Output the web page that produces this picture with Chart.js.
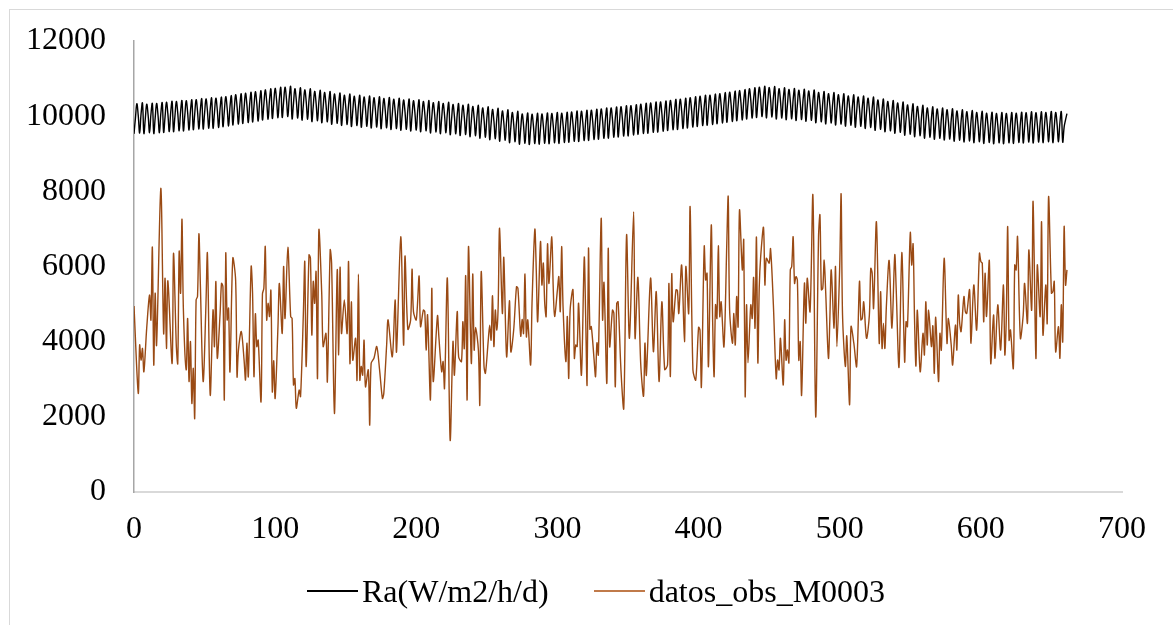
<!DOCTYPE html>
<html>
<head>
<meta charset="utf-8">
<script src="https://cdn.jsdelivr.net/npm/chart.js@4.4.1/dist/chart.umd.min.js"></script>
<style>
  html, body { margin: 0; padding: 0; background: #ffffff; }
  #wrap { position: relative; width: 1173px; height: 625px; overflow: hidden; background: #fff; }
  #frame { position: absolute; left: 9px; top: 9px; width: 1300px; height: 800px; border: 1px solid #d9d9d9; box-sizing: border-box; }
  #chart { position: absolute; left: 0; top: 0; }
  #legend { position: absolute; left: 307px; top: 572px; height: 38px; display: flex; align-items: center;
            font-family: 'Liberation Serif', 'Times New Roman', serif; font-size: 32px; color: #000; white-space: nowrap; }
  .item { display: flex; align-items: center; }
  .swatch { display: inline-block; width: 51px; height: 1.5px; margin-right: 4px; }
  .gap { display: inline-block; width: 45px; }
</style>
</head>
<body>
<div id="wrap">
  <div id="frame"></div>
  <canvas id="chart" width="1173" height="625"></canvas>
  <div id="legend"></div>
</div>
<script>
// ---- Data ----
const seriesNames = ['Ra(W/m2/h/d)', 'datos_obs_M0003'];
const xTicks = [0, 100, 200, 300, 400, 500, 600, 700];
const yTicks = [0, 2000, 4000, 6000, 8000, 10000, 12000];

// Ra series, one value per index 0..661
const raValues = [
 9530, 9940, 10330, 10020, 9550, 10060, 10350,
 9540, 9930, 10320, 10030, 9560, 10050, 10340,
 9540, 9950, 10340, 10030, 9560, 10070, 10360,
 9570, 9980, 10370, 10060, 9590, 10100, 10390,
 9590, 10000, 10390, 10080, 9610, 10120, 10410,
 9610, 10020, 10410, 10100, 9630, 10140, 10430,
 9640, 10050, 10440, 10130, 9660, 10170, 10460,
 9660, 10070, 10460, 10150, 9680, 10190, 10480,
 9680, 10090, 10480, 10170, 9700, 10210, 10500,
 9720, 10130, 10520, 10210, 9740, 10250, 10540,
 9770, 10180, 10570, 10260, 9790, 10300, 10590,
 9810, 10220, 10610, 10300, 9830, 10340, 10630,
 9850, 10260, 10650, 10340, 9870, 10380, 10670,
 9900, 10310, 10700, 10390, 9920, 10430, 10720,
 9940, 10350, 10740, 10430, 9960, 10470, 10760,
 9970, 10380, 10770, 10460, 9990, 10500, 10790,
 9930, 10340, 10730, 10420, 9950, 10460, 10750,
 9900, 10310, 10700, 10390, 9920, 10430, 10720,
 9860, 10270, 10660, 10350, 9880, 10390, 10680,
 9830, 10240, 10630, 10320, 9850, 10360, 10650,
 9790, 10200, 10590, 10280, 9810, 10320, 10610,
 9760, 10170, 10560, 10250, 9780, 10290, 10580,
 9730, 10140, 10530, 10220, 9750, 10260, 10550,
 9710, 10120, 10510, 10200, 9730, 10240, 10530,
 9690, 10100, 10490, 10180, 9710, 10220, 10510,
 9670, 10080, 10470, 10160, 9690, 10200, 10490,
 9650, 10060, 10450, 10140, 9670, 10180, 10470,
 9630, 10040, 10430, 10120, 9650, 10160, 10450,
 9610, 10020, 10410, 10100, 9630, 10140, 10430,
 9590, 10000, 10390, 10080, 9610, 10120, 10410,
 9560, 9970, 10360, 10050, 9580, 10090, 10380,
 9540, 9950, 10340, 10030, 9560, 10070, 10360,
 9510, 9920, 10310, 10000, 9530, 10040, 10330,
 9490, 9900, 10290, 9980, 9510, 10020, 10310,
 9460, 9870, 10260, 9950, 9480, 9990, 10280,
 9420, 9830, 10220, 9910, 9440, 9950, 10240,
 9380, 9790, 10180, 9870, 9400, 9910, 10200,
 9340, 9750, 10140, 9830, 9360, 9870, 10160,
 9300, 9710, 10100, 9790, 9320, 9830, 10120,
 9260, 9670, 10060, 9750, 9280, 9790, 10080,
 9250, 9660, 10050, 9740, 9270, 9780, 10070,
 9260, 9670, 10060, 9750, 9280, 9790, 10080,
 9270, 9680, 10070, 9760, 9290, 9800, 10090,
 9280, 9690, 10080, 9770, 9300, 9810, 10100,
 9310, 9720, 10110, 9800, 9330, 9840, 10130,
 9330, 9740, 10130, 9820, 9350, 9860, 10150,
 9360, 9770, 10160, 9850, 9380, 9890, 10180,
 9390, 9800, 10190, 9880, 9410, 9920, 10210,
 9420, 9830, 10220, 9910, 9440, 9950, 10240,
 9450, 9860, 10250, 9940, 9470, 9980, 10270,
 9480, 9890, 10280, 9970, 9500, 10010, 10300,
 9520, 9930, 10320, 10010, 9540, 10050, 10340,
 9550, 9960, 10350, 10040, 9570, 10080, 10370,
 9580, 9990, 10380, 10070, 9600, 10110, 10400,
 9620, 10030, 10420, 10110, 9640, 10150, 10440,
 9650, 10060, 10450, 10140, 9670, 10180, 10470,
 9690, 10100, 10490, 10180, 9710, 10220, 10510,
 9730, 10140, 10530, 10220, 9750, 10260, 10550,
 9760, 10170, 10560, 10250, 9780, 10290, 10580,
 9800, 10210, 10600, 10290, 9820, 10330, 10620,
 9840, 10250, 10640, 10330, 9860, 10370, 10660,
 9880, 10290, 10680, 10370, 9900, 10410, 10700,
 9930, 10340, 10730, 10420, 9950, 10460, 10750,
 9970, 10380, 10770, 10460, 9990, 10500, 10790,
 9960, 10370, 10760, 10450, 9980, 10490, 10780,
 9930, 10340, 10730, 10420, 9950, 10460, 10750,
 9910, 10320, 10710, 10400, 9930, 10440, 10730,
 9890, 10300, 10690, 10380, 9910, 10420, 10710,
 9870, 10280, 10670, 10360, 9890, 10400, 10690,
 9830, 10240, 10630, 10320, 9850, 10360, 10650,
 9800, 10210, 10600, 10290, 9820, 10330, 10620,
 9770, 10180, 10570, 10260, 9790, 10300, 10590,
 9740, 10150, 10540, 10230, 9760, 10270, 10560,
 9710, 10120, 10510, 10200, 9730, 10240, 10530,
 9680, 10090, 10480, 10170, 9700, 10210, 10500,
 9630, 10040, 10430, 10120, 9650, 10160, 10450,
 9590, 10000, 10390, 10080, 9610, 10120, 10410,
 9550, 9960, 10350, 10040, 9570, 10080, 10370,
 9500, 9910, 10300, 9990, 9520, 10030, 10320,
 9460, 9870, 10260, 9950, 9480, 9990, 10280,
 9420, 9830, 10220, 9910, 9440, 9950, 10240,
 9390, 9800, 10190, 9880, 9410, 9920, 10210,
 9370, 9780, 10170, 9860, 9390, 9900, 10190,
 9340, 9750, 10140, 9830, 9360, 9870, 10160,
 9320, 9730, 10120, 9810, 9340, 9850, 10140,
 9300, 9710, 10100, 9790, 9320, 9830, 10120,
 9280, 9690, 10080, 9770, 9300, 9810, 10100,
 9270, 9680, 10070, 9760, 9290, 9800, 10090,
 9270, 9680, 10070, 9760, 9290, 9800, 10090,
 9280, 9690, 10080, 9770, 9300, 9810, 10100,
 9290, 9700, 10090, 9780, 9310, 9820, 10110,
 9290, 9700, 10090, 9780, 9310, 9820, 10110,
 9300, 9710, 10100, 9790, 9320, 9830, 10120,
 9300, 9710, 10100, 9790, 9320, 9830, 10120,
 9310, 9710, 9900, 10070
];

const obsX = [
 0, 3, 4, 5, 6, 7, 9, 11, 12, 13,
 14, 15, 16, 19, 21, 22, 23, 24, 27, 28,
 30, 31, 32, 33, 34, 35, 37, 38, 39, 40,
 41, 42, 43, 44, 45, 46, 47, 49, 51, 52,
 54, 56, 57, 58, 59, 61, 62, 63, 64, 65,
 66, 67, 68, 70, 72, 73, 74, 76, 78, 79,
 80, 81, 83, 84, 85, 86, 87, 88, 90, 91,
 92, 93, 94, 95, 96, 97, 98, 99, 100, 102,
 103, 105, 106, 107, 109, 111, 112, 113, 114, 115,
 117, 118, 120, 121, 122, 124, 125, 126, 127, 128,
 129, 130, 131, 133, 134, 136, 137, 139, 140, 142,
 144, 145, 146, 147, 149, 151, 152, 153, 154, 155,
 157, 158, 159, 160, 161, 162, 163, 164, 166, 167,
 168, 170, 172, 174, 176, 177, 179, 180, 183, 185,
 186, 189, 191, 192, 194, 196, 197, 198, 200, 202,
 203, 205, 206, 207, 208, 210, 211, 212, 215, 216,
 218, 219, 220, 222, 224, 226, 227, 229, 230, 232,
 233, 234, 235, 236, 237, 239, 240, 241, 242, 244,
 245, 246, 248, 249, 251, 252, 253, 254, 255, 256,
 257, 258, 259, 261, 262, 264, 266, 267, 269, 271,
 272, 274, 275, 276, 277, 278, 279, 281, 282, 284,
 285, 286, 288, 289, 290, 291, 292, 293, 294, 296,
 297, 298, 300, 301, 302, 303, 304, 306, 307, 308,
 309, 311, 312, 313, 314, 315, 317, 319, 320, 321,
 322, 323, 324, 326, 327, 328, 329, 331, 332, 333,
 335, 336, 337, 339, 340, 341, 342, 343, 345, 347,
 349, 351, 354, 355, 357, 359, 361, 362, 363, 366,
 368, 370, 372, 374, 376, 378, 379, 380, 381, 382,
 384, 385, 386, 388, 390, 391, 393, 394, 396, 398,
 400, 401, 402, 404, 405, 406, 407, 409, 410, 411,
 412, 413, 414, 415, 416, 418, 420, 421, 422, 424,
 425, 426, 427, 428, 429, 431, 432, 433, 434, 435,
 437, 438, 439, 440, 441, 442, 443, 444, 446, 447,
 448, 450, 451, 453, 455, 456, 457, 458, 460, 461,
 462, 463, 464, 465, 466, 467, 468, 469, 470, 471,
 472, 473, 475, 476, 477, 479, 481, 483, 485, 486,
 487, 488, 489, 490, 492, 493, 494, 496, 497, 498,
 500, 501, 502, 504, 505, 507, 508, 510, 512, 514,
 515, 516, 517, 519, 521, 522, 523, 524, 526, 528,
 529, 530, 531, 532, 533, 535, 537, 539, 540, 542,
 544, 546, 547, 548, 550, 551, 552, 553, 554, 555,
 557, 559, 560, 561, 562, 563, 565, 566, 567, 568,
 570, 571, 572, 574, 576, 577, 579, 580, 582, 583,
 584, 585, 586, 588, 589, 590, 592, 593, 595, 597,
 599, 600, 601, 602, 603, 604, 606, 607, 609, 610,
 612, 614, 616, 617, 618, 619, 620, 621, 623, 624,
 625, 626, 628, 630, 631, 633, 634, 636, 637, 639,
 640, 642, 643, 644, 646, 647, 648, 650, 651, 652,
 653, 655, 656, 657, 658, 659, 660, 661
];
const obsValues = [
 4950, 2630, 3910, 3510, 3820, 3200, 4360, 5240, 4580, 6510,
 3380, 5290, 3910, 8080, 4220, 5690, 3820, 5620, 3420, 6350,
 3870, 3420, 6400, 5290, 7260, 4840, 3250, 4620, 2940, 4000,
 2360, 3290, 1960, 5110, 5200, 6870, 5550, 2940, 5020, 6350,
 2580, 4840, 3870, 5600, 3560, 4750, 5550, 5460, 2450, 6350,
 4580, 4890, 3200, 6220, 5640, 3070, 3780, 4270, 3510, 2980,
 3960, 3070, 6000, 5290, 3070, 4740, 3870, 4040, 2400, 5270,
 5420, 6530, 4580, 5020, 4670, 5360, 2670, 3490, 2490, 4400,
 5550, 4220, 6000, 4620, 6510, 4670, 4620, 2850, 3020, 2230,
 2710, 2540, 4750, 6130, 3340, 6310, 6220, 4180, 5600, 5020,
 5860, 3020, 6970, 5290, 3870, 4220, 2940, 6440, 6090, 2090,
 5910, 3650, 5980, 4220, 5110, 4220, 6130, 3420, 5060, 3510,
 4090, 2980, 5800, 2980, 3340, 3110, 4040, 2800, 3250, 1780,
 3420, 3560, 3870, 3250, 2490, 2630, 3910, 4580, 3600, 5110,
 3730, 6790, 3910, 6280, 4330, 4580, 5930, 4800, 4580, 5750,
 4400, 4840, 4800, 3780, 4710, 2450, 5420, 2940, 4690, 4130,
 3200, 3470, 2760, 5690, 1380, 4000, 3110, 4800, 3600, 3470,
 4530, 3820, 5750, 2450, 6530, 3420, 5800, 3780, 4380, 3780,
 2320, 5860, 3340, 3160, 4040, 4440, 4040, 5220, 3870, 4840,
 4310, 4930, 7020, 4750, 6240, 3600, 5090, 3730, 4310, 5460,
 5420, 4150, 4590, 4220, 5800, 4130, 4580, 3380, 5020, 6990,
 5910, 4530, 6660, 5510, 6090, 5020, 4670, 6600, 5550, 6790,
 5460, 4670, 5380, 5730, 4800, 6530, 4910, 3470, 4670, 3020,
 4840, 5380, 3560, 3910, 3870, 5020, 3110, 6240, 4670, 2850,
 6480, 4330, 4400, 3510, 3070, 3970, 3650, 7280, 4580, 5570,
 2890, 6480, 3870, 4840, 4750, 2800, 5020, 5060, 3250, 2230,
 6840, 4090, 7460, 4090, 5710, 3420, 2550, 3960, 3110, 5690,
 3730, 5330, 2940, 5060, 3260, 3380, 5550, 3070, 5800, 4530,
 5380, 5360, 4750, 6040, 4000, 6000, 4750, 7590, 3250, 2980,
 4380, 4310, 2800, 6530, 5640, 5820, 3340, 7100, 4490, 3070,
 4980, 4620, 6550, 4670, 5060, 3870, 6620, 7860, 4840, 3960,
 4750, 3910, 5200, 4400, 7500, 5910, 6710, 2540, 4980, 3440,
 4980, 4620, 5710, 4360, 6780, 3440, 5460, 6260, 7040, 5510,
 6220, 6090, 6470, 4980, 3020, 3510, 3250, 4090, 2850, 4580,
 3510, 3780, 3440, 5910, 6000, 6790, 5550, 5730, 5640, 3510,
 4000, 2580, 5550, 4490, 5690, 4800, 7900, 2000, 6790, 7370,
 5380, 5420, 6170, 5380, 3560, 4580, 5910, 4360, 6000, 3870,
 6000, 7930, 4710, 3340, 4150, 2320, 4400, 3960, 3340, 5600,
 4580, 4620, 5060, 4090, 4700, 5950, 5820, 4890, 7190, 3960,
 5330, 3820, 4490, 3820, 4890, 6160, 4360, 6310, 5420, 3320,
 6370, 3470, 4530, 4400, 6900, 6040, 6600, 4620, 3350, 4840,
 3200, 4220, 3650, 5060, 3910, 4840, 3870, 4420, 3160, 4650,
 2940, 4220, 3780, 6220, 3960, 4620, 3910, 3380, 4440, 3780,
 5240, 4490, 4270, 5200, 4800, 4750, 5380, 3960, 5510, 4310,
 6350, 6130, 6090, 4530, 5820, 4670, 6160, 3420, 4710, 3560,
 4980, 3780, 5510, 3650, 4580, 7060, 4040, 4310, 3290, 6040,
 5910, 6790, 4090, 4710, 5550, 4490, 6440, 4840, 7730, 3560,
 6040, 4670, 7190, 4180, 5510, 4490, 7860, 5290, 5330, 5600,
 3730, 4400, 3560, 4980, 4000, 7060, 5510, 5910
];

const lineColors = ['#000000', '#9a4a14'];

// ---- Chart ----
const FONT = "'Liberation Serif', 'Times New Roman', serif";
const raData = raValues.map((v, i) => ({ x: i, y: v }));
const nObs = Math.min(obsX.length, obsValues.length);
const obsData = [];
for (let i = 0; i < nObs; i++) obsData.push({ x: obsX[i], y: obsValues[i] });

new Chart(document.getElementById('chart'), {
  type: 'line',
  data: {
    datasets: [
      { label: seriesNames[0], data: raData, borderColor: lineColors[0], borderWidth: 1.4,
        pointRadius: 0, tension: 0.4, fill: false },
      { label: seriesNames[1], data: obsData, borderColor: lineColors[1], borderWidth: 1.4,
        pointRadius: 0, tension: 0.3, fill: false }
    ]
  },
  options: {
    responsive: false,
    animation: false,
    devicePixelRatio: 1,
    layout: { padding: { left: 0, top: 41, right: 51, bottom: 0 } },
    plugins: { legend: { display: false }, tooltip: { enabled: false } },
    scales: {
      x: {
        type: 'linear', min: xTicks[0], max: xTicks[xTicks.length - 1],
        afterBuildTicks: s => { s.ticks = xTicks.map(v => ({ value: v })); },
        afterFit: s => { s.height = 133; },
        grid: { display: false, drawTicks: false },
        border: { display: true, color: '#d9d9d9', width: 2 },
        ticks: { padding: 18, color: '#000', font: { family: FONT, size: 32 }, maxRotation: 0, autoSkip: false,
                 callback: v => String(v) }
      },
      y: {
        type: 'linear', min: yTicks[0], max: yTicks[yTicks.length - 1],
        afterBuildTicks: s => { s.ticks = yTicks.map(v => ({ value: v })); },
        afterFit: s => { s.width = 134; s.paddingTop = 0; s.paddingBottom = 0; },
        grid: { display: false, drawTicks: false },
        border: { display: true, color: '#a6a6a6', width: 1.5 },
        ticks: { padding: 28, color: '#000', font: { family: FONT, size: 32 }, callback: v => String(v) }
      }
    }
  }
});

// ---- HTML legend built from the series names ----
const legend = document.getElementById('legend');
seriesNames.forEach((name, i) => {
  if (i > 0) { const g = document.createElement('span'); g.className = 'gap'; legend.appendChild(g); }
  const item = document.createElement('span'); item.className = 'item';
  const sw = document.createElement('span'); sw.className = 'swatch';
  sw.style.background = i === 0 ? '#000' : '#c07a4a';
  const tx = document.createElement('span'); tx.textContent = name;
  item.appendChild(sw); item.appendChild(tx); legend.appendChild(item);
});
</script>
</body>
</html>
